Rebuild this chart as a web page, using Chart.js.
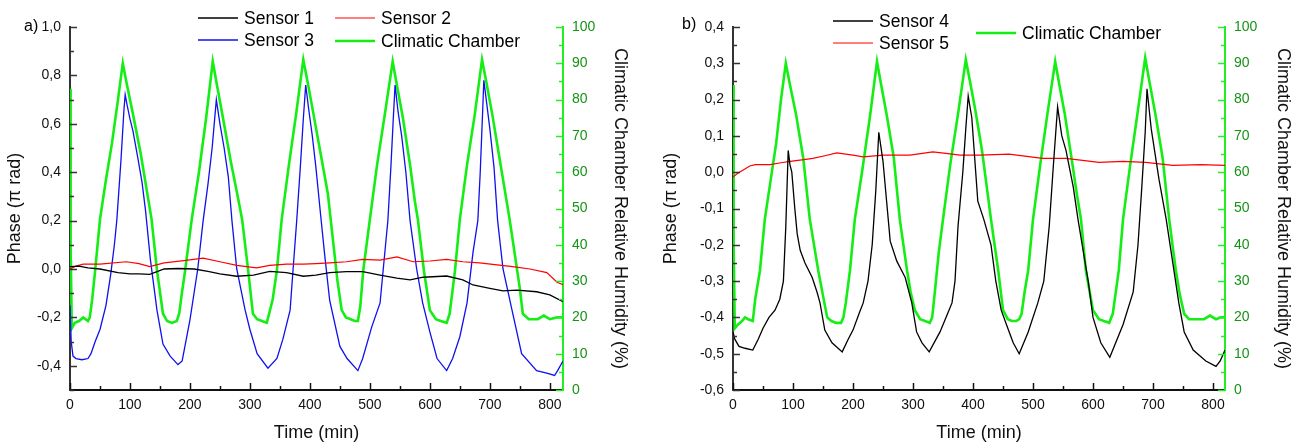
<!DOCTYPE html>
<html>
<head>
<meta charset="utf-8">
<script src="https://cdn.jsdelivr.net/npm/chart.js@4.4.0/dist/chart.umd.min.js"></script>
<style>
html,body{margin:0;padding:0;background:#fff;overflow:hidden;}
#wrap{position:relative;width:1296px;height:445px;background:#fff;}
.box{position:absolute;top:0;width:648px;height:445px;}
</style>
</head>
<body>
<div id="wrap">
  <div class="box" style="left:0"><canvas id="ca"></canvas></div>
  <div class="box" style="left:648px"><canvas id="cb"></canvas></div>
</div>
<script>
// ---------- tick values ----------
const xTicks = [0,100,200,300,400,500,600,700,800];
const phaseTicksA = [-0.4,-0.2,0.0,0.2,0.4,0.6,0.8,1.0];
const phaseTicksB = [-0.6,-0.5,-0.4,-0.3,-0.2,-0.1,0.0,0.1,0.2,0.3,0.4];
const rhTicks = [0,10,20,30,40,50,60,70,80,90,100];

// ---------- panel a) ----------
const tS1 = [0,15,30,50,80,100,115,133,157,180,207,230,250,278,306,333,361,389,410,433,461,488,517,545,567,589,628,655,672,700,722,745,778,800,822];
const vS1 = [0.01,0.012,0.005,0.0,-0.015,-0.02,-0.02,-0.022,0.0,0.002,0.0,-0.01,-0.02,-0.03,-0.025,-0.01,-0.015,-0.03,-0.025,-0.015,-0.011,-0.011,-0.025,-0.038,-0.045,-0.034,-0.029,-0.045,-0.066,-0.08,-0.09,-0.087,-0.094,-0.107,-0.135];

const tS2 = [0,10,22,50,94,115,133,157,190,222,250,278,311,333,361,389,410,433,461,488,517,545,572,600,628,655,683,712,738,767,795,812,822];
const vS2 = [0.0,0.012,0.02,0.02,0.03,0.022,0.01,0.025,0.035,0.045,0.03,0.015,0.005,0.015,0.02,0.02,0.022,0.025,0.03,0.04,0.037,0.05,0.03,0.033,0.04,0.03,0.025,0.017,0.01,0.0,-0.015,-0.055,-0.065];

const tS3 = [0,2,5,10,20,30,35,42,50,60,68,74,78,85,90,92,95,100,105,113,120,126,134,145,155,167,180,187,200,213,222,230,237,244,250,257,264,270,278,292,300,312,330,345,355,367,372,378,384,389,393,398,404,410,418,425,433,450,462,480,488,503,517,525,530,535,539,542,547,553,560,567,578,588,600,612,628,638,650,662,672,680,684,688,690,694,700,707,713,722,737,753,778,795,808,813,822];
const vS3 = [-0.15,-0.3,-0.36,-0.37,-0.375,-0.37,-0.35,-0.3,-0.25,-0.15,-0.02,0.1,0.2,0.45,0.66,0.72,0.68,0.62,0.57,0.46,0.36,0.24,0.04,-0.17,-0.31,-0.36,-0.395,-0.38,-0.21,0.0,0.2,0.35,0.5,0.70,0.6,0.5,0.38,0.2,0.0,-0.17,-0.25,-0.35,-0.41,-0.37,-0.29,-0.17,0.0,0.2,0.42,0.62,0.76,0.66,0.55,0.42,0.22,0.05,-0.13,-0.32,-0.37,-0.42,-0.37,-0.24,-0.14,0.07,0.2,0.42,0.62,0.76,0.65,0.55,0.4,0.2,0.0,-0.14,-0.26,-0.37,-0.42,-0.37,-0.28,-0.14,0.07,0.2,0.4,0.65,0.78,0.7,0.58,0.42,0.2,0.0,-0.17,-0.35,-0.42,-0.43,-0.44,-0.42,-0.38];

const tChA = [0,1,3,8,15,22,30,33,37,42,50,60,70,80,88,95,105,118,128,136,145,155,162,170,178,182,186,192,203,215,227,238,245,255,268,280,287,297,305,312,320,328,332,338,345,353,365,377,389,396,406,418,430,438,446,453,460,468,475,480,484,489,500,512,525,538,545,555,567,575,580,590,600,610,618,628,633,642,650,662,675,687,694,704,716,726,733,742,750,755,765,780,790,800,812,822];
const vChA = [83,40,17,18.5,19,20,19,20,25,33,47,58,68,80,90,84,76,65,55,47,33,21,19,18.5,19,21,26,33,47,60,75,90.5,84,75,63,53,47,33,21,19.5,19,18.5,21,25,33,47,62,76,91,85,76,65,54,42,30,22,20,19.5,19,19,23,33,47,62,76,90.5,84,75,62,52,47,33,22,19.5,19,18.5,21,33,47,62,76,91,85,76,64,54,47,37,28,21,19.5,19.5,20.5,19.5,20,20];

// ---------- panel b) ----------
const tS4 = [0,3,10,20,33,42,50,60,70,78,84,88,92,95,98,103,107,112,120,132,140,145,153,165,182,192,200,210,217,225,232,238,243,250,256,262,273,287,298,306,315,327,345,355,365,370,375,383,388,392,398,408,418,430,438,447,458,467,477,492,508,518,527,534,541,548,555,567,575,582,592,600,613,628,650,667,675,681,687,690,697,710,722,733,743,752,767,788,805,812,820];
const vS4 = [-0.44,-0.46,-0.48,-0.485,-0.49,-0.46,-0.43,-0.40,-0.38,-0.35,-0.30,-0.15,0.06,0.02,0.0,-0.1,-0.17,-0.215,-0.25,-0.29,-0.33,-0.36,-0.435,-0.47,-0.495,-0.46,-0.435,-0.39,-0.36,-0.30,-0.2,-0.05,0.11,0.03,-0.08,-0.19,-0.245,-0.29,-0.36,-0.44,-0.47,-0.495,-0.44,-0.40,-0.36,-0.30,-0.15,0.0,0.12,0.21,0.15,-0.08,-0.13,-0.2,-0.3,-0.38,-0.43,-0.47,-0.50,-0.44,-0.36,-0.30,-0.15,0.02,0.18,0.1,0.06,-0.04,-0.13,-0.2,-0.3,-0.4,-0.47,-0.51,-0.42,-0.33,-0.2,-0.05,0.11,0.23,0.12,-0.02,-0.13,-0.25,-0.36,-0.44,-0.49,-0.52,-0.535,-0.52,-0.49];

const tS5 = [0,8,17,28,37,62,80,95,115,133,155,173,200,217,250,295,333,355,378,412,460,516,555,610,650,688,733,780,820];
const vS5 = [-0.013,-0.003,0.006,0.017,0.021,0.021,0.026,0.03,0.034,0.038,0.046,0.053,0.047,0.042,0.047,0.047,0.056,0.052,0.047,0.047,0.05,0.038,0.038,0.027,0.03,0.027,0.019,0.021,0.019];

const tChB = [0,1,3,8,15,20,25,33,37,45,53,62,72,80,88,95,105,117,128,142,150,157,164,172,180,184,188,195,203,215,228,240,247,257,268,278,290,296,303,312,320,328,332,337,343,350,362,375,388,395,404,415,430,442,450,458,465,472,477,481,486,492,500,512,524,537,544,553,565,573,580,588,600,610,618,627,633,643,650,662,674,687,694,704,716,727,738,745,752,760,770,785,795,805,813,820];
const vChB = [84,40,17,18,19,20,19.5,19,25,33,47,57,68,80,90,84,76,64,47,33,26,20,19,18.5,18.5,20,24,33,47,60,75,90.5,84,75,64,47,33,27,22,19.5,19,18.5,20,28,38,47,62,76,91,85,77,66,47,33,22,19.5,19,19,19.5,21,27,33,47,62,76,90.5,84,76,63,54,47,33,22,19.5,19,18.5,21,33,47,62,76,91.5,85,76,64,47,33,26,21,19.5,19.5,19.5,20.5,19.5,20,20];

// ---------- helpers ----------
const FONT = "'Liberation Sans', Arial, sans-serif";
function pts(t, v){ return t.map((x,i)=>({x:x, y:v[i]})); }
function fmtPhase(v){ return (Math.abs(v)<1e-9 ? 0 : v).toFixed(1).replace('.', ','); }

function tickMarksPlugin(specs){
  return {
    id:'tickMarks',
    afterDraw(chart){
      const ctx = chart.ctx, a = chart.chartArea;
      specs.forEach(s=>{
        const sc = chart.scales[s.id];
        const vals = sc.ticks.map(t=>t.value);
        const step = vals[1]-vals[0];
        const minors = [];
        for(let v = vals[0]-step/2; v <= sc.max+1e-9; v += step){ if(v >= sc.min-1e-9) minors.push(v); }
        ctx.save();
        ctx.strokeStyle = s.color; ctx.lineWidth = 1.5;
        const draw = (v,len)=>{
          const p = Math.round(sc.getPixelForValue(v))+0.5;
          ctx.beginPath();
          if(s.side==='bottom'){ ctx.moveTo(p,a.bottom); ctx.lineTo(p,a.bottom-len); }
          else if(s.side==='left'){ ctx.moveTo(a.left,p); ctx.lineTo(a.left+len,p); }
          else { ctx.moveTo(a.right,p); ctx.lineTo(a.right-len,p); }
          ctx.stroke();
        };
        vals.forEach(v=>draw(v,7));
        minors.forEach(v=>draw(v,4));
        ctx.restore();
      });
    }
  };
}

function legendPlugin(items, tag){
  return {
    id:'customLegend',
    afterDraw(chart){
      const ctx = chart.ctx;
      ctx.save();
      ctx.font = '17.5px ' + FONT;
      ctx.textBaseline = 'middle';
      ctx.fillStyle = '#000';
      items.forEach(it=>{
        const ds = chart.data.datasets[it.ds];
        ctx.strokeStyle = ds.borderColor; ctx.lineWidth = ds.borderWidth;
        ctx.beginPath(); ctx.moveTo(it.x, it.y); ctx.lineTo(it.x+40, it.y); ctx.stroke();
        ctx.fillText(ds.label, it.x+46, it.y+1);
      });
      ctx.font = '16px ' + FONT;
      ctx.fillText(tag.text, tag.x, tag.y);
      ctx.restore();
    }
  };
}

function makeChart(id, cfg){
  const datasets = [
    ...cfg.series.map(s=>({label:s.label, data:pts(s.t,s.v), borderColor:s.color, borderWidth:s.w, pointRadius:0, tension:0, yAxisID:'y', fill:false})),
    {label:'Climatic Chamber', data:pts(cfg.ch.t,cfg.ch.v), borderColor:'#14ee14', borderWidth:2.6, pointRadius:0, tension:0, yAxisID:'y2', fill:false}
  ];
  return new Chart(document.getElementById(id), {
    type:'line',
    data:{datasets},
    options:{
      responsive:true, maintainAspectRatio:false, animation:false,
      layout:{padding:{top:27,left:0,right:0,bottom:0}},
      plugins:{legend:{display:false}, tooltip:{enabled:false}},
      scales:{
        x:{type:'linear', min:0, max:cfg.xmax,
          afterBuildTicks:sc=>{ sc.ticks = xTicks.map(v=>({value:v})); },
          afterFit:sc=>{ sc.height = 55; },
          grid:{display:false, drawTicks:false},
          border:{display:true, color:'#111', width:2},
          ticks:{autoSkip:false, maxRotation:0, padding:7, color:'#111', font:{family:FONT, size:14}},
          title:{display:true, text:'Time (min)', color:'#111', font:{family:FONT, size:18}, padding:{top:0,bottom:1}}
        },
        y:{type:'linear', position:'left', min:cfg.ymin, max:cfg.ymax,
          afterBuildTicks:sc=>{ sc.ticks = cfg.yTicks.map(v=>({value:v})); },
          afterFit:sc=>{ sc.width = cfg.leftW; },
          grid:{display:false, drawTicks:false},
          border:{display:true, color:'#333', width:2},
          ticks:{autoSkip:false, padding:9, color:'#111', font:{family:FONT, size:14}, callback:v=>fmtPhase(v)},
          title:{display:true, text:'Phase (\u03c0 rad)', color:'#111', font:{family:FONT, size:18}, padding:{top:cfg.leftTitlePad}}
        },
        y2:{type:'linear', position:'right', min:0, max:100,
          afterBuildTicks:sc=>{ sc.ticks = rhTicks.map(v=>({value:v})); },
          afterFit:sc=>{ sc.width = cfg.rightW; },
          grid:{display:false, drawTicks:false},
          border:{display:true, color:'#22ee22', width:2},
          ticks:{autoSkip:false, padding:9, color:'#149414', font:{family:FONT, size:14}},
          title:{display:true, text:'Climatic Chamber Relative Humidity (%)', color:'#111', font:{family:FONT, size:18}, padding:{top:cfg.rightTitlePad}}
        }
      }
    },
    plugins:[
      tickMarksPlugin([
        {id:'x', side:'bottom', color:'#111'},
        {id:'y', side:'left', color:'#333'},
        {id:'y2', side:'right', color:'#22ee22'}
      ]),
      legendPlugin(cfg.legend, cfg.tag)
    ]
  });
}

makeChart('ca', {
  xmax:822, ymin:-0.5, ymax:1.0, yTicks:phaseTicksA, leftW:70, rightW:85, leftTitlePad:4, rightTitlePad:17,
  series:[
    {label:'Sensor 1', t:tS1, v:vS1, color:'#000000', w:1.3},
    {label:'Sensor 2', t:tS2, v:vS2, color:'#ff0000', w:1.2},
    {label:'Sensor 3', t:tS3, v:vS3, color:'#1010ee', w:1.3}
  ],
  ch:{t:tChA, v:vChA},
  legend:[{ds:0,x:198,y:18},{ds:2,x:198,y:40},{ds:1,x:335,y:18},{ds:3,x:335,y:41}],
  tag:{text:'a)', x:24, y:27}
});

makeChart('cb', {
  xmax:820, ymin:-0.6, ymax:0.4, yTicks:phaseTicksB, leftW:85, rightW:71, leftTitlePad:12, rightTitlePad:2,
  series:[
    {label:'Sensor 4', t:tS4, v:vS4, color:'#000000', w:1.3},
    {label:'Sensor 5', t:tS5, v:vS5, color:'#ff0000', w:1.2}
  ],
  ch:{t:tChB, v:vChB},
  legend:[{ds:0,x:185,y:21},{ds:1,x:185,y:43},{ds:2,x:328,y:33}],
  tag:{text:'b)', x:34, y:25}
});
</script>
</body>
</html>
